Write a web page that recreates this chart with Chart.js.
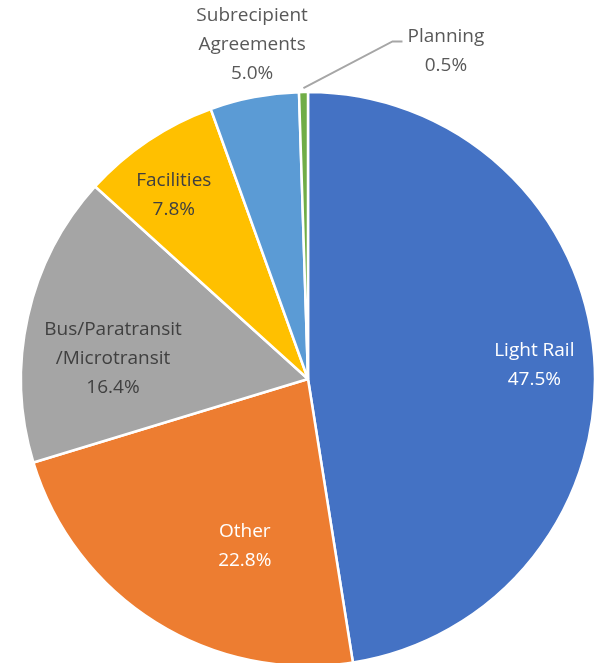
<!DOCTYPE html>
<html>
<head>
<meta charset="utf-8">
<script src="https://cdn.jsdelivr.net/npm/chart.js@4.4.1/dist/chart.umd.min.js"></script>
<style>
  html, body { margin: 0; padding: 0; background: #ffffff; }
  #wrap { width: 598px; height: 663px; position: relative; }
</style>
</head>
<body>
<div id="wrap"><canvas id="c" width="598" height="663"></canvas></div>
<script>
// ---- data ----
const categories = [
  ["Light Rail"],
  ["Other"],
  ["Bus/Paratransit", "/Microtransit"],
  ["Facilities"],
  ["Subrecipient", "Agreements"],
  ["Planning"]
];
const shares = [47.5, 22.8, 16.4, 7.8, 5.0, 0.5];
const sliceColors = ["#4472C4", "#ED7D31", "#A5A5A5", "#FFC000", "#5B9BD5", "#70AD47"];

// ---- label placement (style, not data) ----
const labelStyle = {
  radiusFrac: [0.79, 0.622, 0.683, 0.793, 1.18, 1.24],
  angleShiftDeg: [1.1, -11.3, -6.7, -2.3, 1.3, 23.7],
  color: ["#ffffff", "#ffffff", "#404040", "#404040", "#595959", "#595959"],
  leader: [false, false, false, false, false, true]
};

const pieLabels = {
  id: 'pieLabels',
  afterDatasetsDraw(chart) {
    const ctx = chart.ctx;
    const meta = chart.getDatasetMeta(0);
    const fontSize = 19;
    const lineH = 29;
    ctx.save();
    ctx.font = fontSize + 'px "Open Sans", "Noto Sans", sans-serif';
    ctx.textAlign = 'center';
    ctx.textBaseline = 'middle';
    meta.data.forEach((arc, i) => {
      const p = arc.getProps(['x', 'y', 'startAngle', 'endAngle', 'outerRadius'], true);
      const mid = (p.startAngle + p.endAngle) / 2;
      const a = mid + labelStyle.angleShiftDeg[i] * Math.PI / 180;
      const r = p.outerRadius * labelStyle.radiusFrac[i];
      const lx = p.x + Math.cos(a) * r;
      const ly = p.y + Math.sin(a) * r;
      const lines = categories[i].concat([shares[i].toFixed(1) + '%']);
      const top = ly - (lines.length - 1) * lineH / 2;
      if (labelStyle.leader[i]) {
        let w = 0;
        lines.forEach(t => { w = Math.max(w, ctx.measureText(t).width); });
        const left = lx - w / 2;
        const sx = p.x + Math.cos(mid) * (p.outerRadius + 4);
        const sy = p.y + Math.sin(mid) * (p.outerRadius + 4);
        const ey = top + 5;
        ctx.beginPath();
        ctx.strokeStyle = '#A6A6A6';
        ctx.lineWidth = 2;
        ctx.moveTo(sx, sy);
        ctx.lineTo(left - 15, ey);
        ctx.lineTo(left - 5, ey);
        ctx.stroke();
      }
      ctx.fillStyle = labelStyle.color[i];
      lines.forEach((t, k) => ctx.fillText(t, lx, top + k * lineH));
    });
    ctx.restore();
  }
};

new Chart(document.getElementById('c'), {
  type: 'pie',
  data: {
    labels: categories.map(c => c.join(' ')),
    datasets: [{
      data: shares,
      backgroundColor: sliceColors,
      borderColor: '#ffffff',
      borderWidth: 2.5
    }]
  },
  options: {
    responsive: false,
    animation: false,
    radius: 287,
    layout: { padding: { left: 18, right: 0, top: 95, bottom: 0 } },
    plugins: {
      legend: { display: false },
      tooltip: { enabled: false }
    }
  },
  plugins: [pieLabels]
});
</script>
</body>
</html>
